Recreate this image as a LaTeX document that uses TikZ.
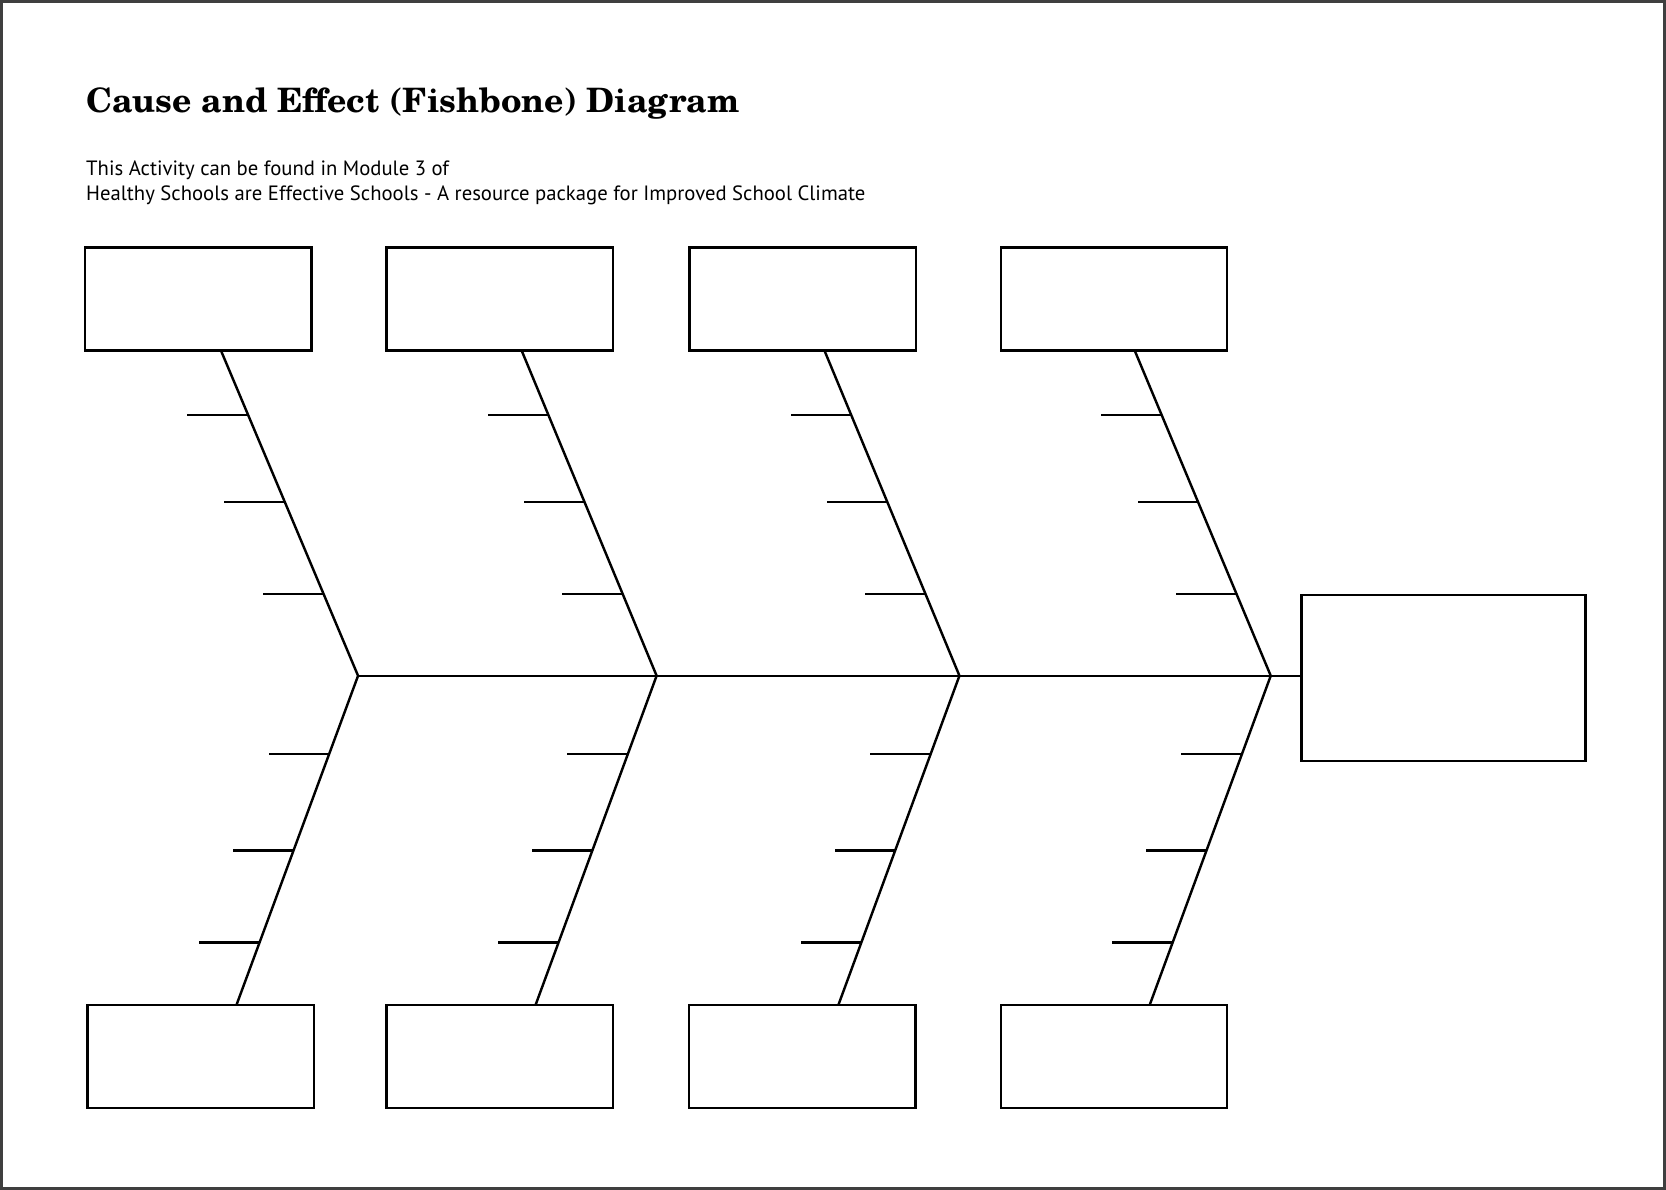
\documentclass[tikz,border=0pt]{standalone}
\usepackage{fontspec}
\usepackage{xcolor}
\usepackage{tikz}
\usetikzlibrary{calc}
\newfontfamily\titlefont{TeX Gyre Schola}
\newfontfamily\notefont{PT Sans}
\definecolor{framegray}{HTML}{3F3F3F}

\begin{document}
\begin{tikzpicture}[
    x=0.01cm, y=-0.01cm,
    line width=0.65pt,
    cause/.style={rectangle, draw, minimum width=2.13cm, minimum height=0.97cm, inner sep=0pt, outer sep=0pt},
    effect/.style={cause, minimum width=2.67cm, minimum height=1.56cm},
    bone/.style={line width=0.65pt, line join=miter}
]
\useasboundingbox (0,0) rectangle (1568,1120);
\draw[framegray, line width=0.9pt] (1.6,1.6) rectangle (1566.4,1118.4);

% Titre
\node[anchor=base west, inner sep=0pt, font=\titlefont\bfseries\fontsize{9}{11}\selectfont] (title) at (80,106) {Cause and Effect (Fishbone) Diagram};
\node[anchor=base west, inner sep=0pt, align=left, font=\notefont\fontsize{5.54}{6.8}\selectfont] (note) at (80,189) {This Activity can be found in Module 3 of\\Healthy Schools are Effective Schools - A resource package for Improved School Climate};

% Causes
\node[cause] (top1) at (186.5,281.5) {};
\node[cause] (top2) at (470.5,281.5) {};
\node[cause] (top3) at (755.5,281.5) {};
\node[cause] (top4) at (1048.5,281.5) {};
\node[cause] (bot1) at (189,994.5) {};
\node[cause] (bot2) at (470.5,994.5) {};
\node[cause] (bot3) at (755,994.5) {};
\node[cause] (bot4) at (1048.5,994.5) {};

% Effet
\node[effect] (effect) at (1358.5,638) {};

% Arêtes
\coordinate (j1) at (337,636);
\coordinate (j2) at (618,636);
\coordinate (j3) at (903,636);
\coordinate (j4) at (1196,636);
\coordinate (u1) at ([xshift=0.215cm]top1.south);
\coordinate (u2) at ([xshift=0.205cm]top2.south);
\coordinate (u3) at ([xshift=0.205cm]top3.south);
\coordinate (u4) at ([xshift=0.195cm]top4.south);
\coordinate (l1) at ([xshift=0.335cm]bot1.north);
\coordinate (l2) at ([xshift=0.335cm]bot2.north);
\coordinate (l3) at ([xshift=0.34cm]bot3.north);
\coordinate (l4) at ([xshift=0.335cm]bot4.north);

\draw[bone] (u1) -- (j1) -- (l1);
\draw[bone] (u2) -- (j2) -- (l2);
\draw[bone] (u3) -- (j3) -- (l3);
\draw[bone] (u4) -- (j4) -- (l4);

% Colonne
\draw[bone] (j1) -- (j4) -- (j4 -| effect.west);

% Petites arêtes
\foreach \j/\u/\l in {j1/u1/l1, j2/u2/l2, j3/u3/l3, j4/u4/l4} {
    \foreach \t in {0.197,0.466,0.748} \draw ($(\u)!\t!(\j)$) -- ++(-57,0);
    \foreach \t in {0.238,0.531,0.810} \draw ($(\j)!\t!(\l)$) -- ++(-57,0);
}

\end{tikzpicture}
\end{document}
